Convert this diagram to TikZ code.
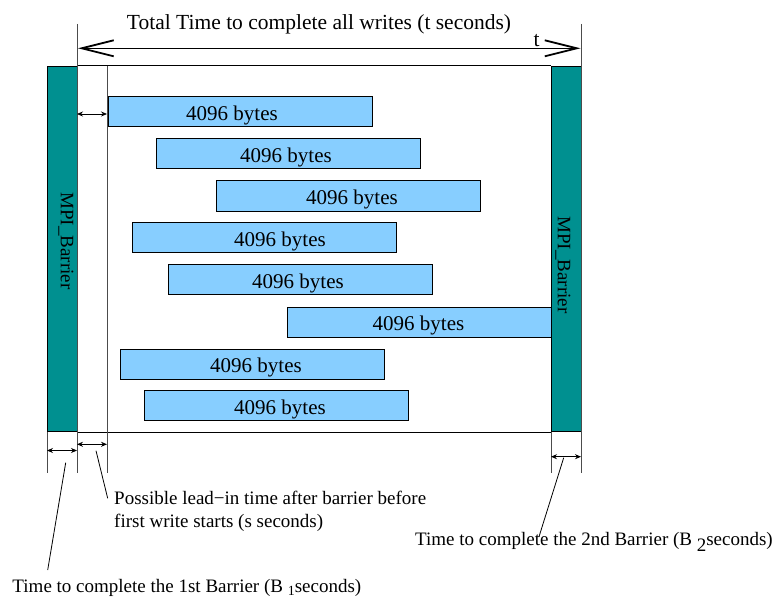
\documentclass[tikz,border=0pt]{standalone}
\usepackage{fontspec}
\setmainfont{Liberation Serif}
\usetikzlibrary{arrows.meta}
\definecolor{barteal}{HTML}{009090}
\definecolor{barblue}{HTML}{87CEFF}
\tikzset{
  wbar/.style={draw=black, line width=1bp, fill=barblue, minimum width=264bp, minimum height=30bp, inner sep=0pt, anchor=north west},
  barrier/.style={draw=black, line width=1bp, fill=barteal, minimum width=30bp, minimum height=365bp, inner sep=0pt, anchor=north west},
  bytes/.style={font=\fontsize{21bp}{24bp}\selectfont, anchor=base, inner sep=0pt},
  lbl/.style={font=\fontsize{19bp}{22bp}\selectfont, anchor=base west, inner sep=0pt},
  rot/.style={font=\fontsize{19bp}{22bp}\selectfont, rotate=-90, inner sep=0pt},
  ext/.style={draw=black!70, line width=1bp},
  frame/.style={draw=black, line width=1bp},
  dimarrow/.style={line width=0.8bp, {Stealth[length=6bp,width=5bp]}-{Stealth[length=6bp,width=5bp]}},
  bigarrow/.style={line width=1bp, {Straight Barb[length=32bp,width=16bp,line width=1.8bp]}-{Straight Barb[length=32bp,width=16bp,line width=1.8bp]}},
  leader/.style={draw=black, line width=0.8bp}
}
\begin{document}
\begin{tikzpicture}[x=1bp,y=-1bp]
\useasboundingbox[fill=white] (0,0) rectangle (772,601);

% barriers
\node[barrier] (bar1) at (47,66) {};
\node[barrier] (bar2) at (551,66) {};
\node[rot] (mpi1) at (66,241) {MPI\_Barrier};
\node[rot] (mpi2) at (563,265) {MPI\_Barrier};

% frame
\draw[frame] (bar1.north east) -- (bar2.north west);
\draw[frame] (bar1.south east) -- (bar2.south west);

% extension lines
\coordinate (e77t) at (77,24);
\coordinate (e77b) at (77,473);
\coordinate (e107t) at (107,66);
\coordinate (e107b) at (107,473);
\coordinate (e47b) at (47,473);
\coordinate (e551b) at (551,473);
\coordinate (e581t) at (581,24);
\coordinate (e581b) at (581,473);
\draw[ext] (e77t) -- (e77b);
\draw[ext] (e107t) -- (e107b);
\draw[ext] (bar1.south west) -- (e47b);
\draw[ext] (bar2.south west) -- (e551b);
\draw[ext] (e581t) -- (e581b);

% write bars
\node[wbar] (b1) at (107.5,96.3) {};
\node[wbar] (b2) at (155.5,138.3) {};
\node[wbar] (b3) at (215.5,180.5) {};
\node[wbar] (b4) at (131.5,222.3) {};
\node[wbar] (b5) at (167.5,264.3) {};
\node[wbar] (b6) at (287.3,306.5) {};
\node[wbar] (b7) at (119.5,348.5) {};
\node[wbar] (b8) at (143.5,390.3) {};
\node[bytes] (l1) at (232,120.3) {4096 bytes};
\node[bytes] (l2) at (286,162.3) {4096 bytes};
\node[bytes] (l3) at (352,204.5) {4096 bytes};
\node[bytes] (l4) at (280,246.3) {4096 bytes};
\node[bytes] (l5) at (298,288.3) {4096 bytes};
\node[bytes] (l6) at (418.5,330.5) {4096 bytes};
\node[bytes] (l7) at (256,372.5) {4096 bytes};
\node[bytes] (l8) at (280,414.3) {4096 bytes};

% top total-time arrow
\coordinate (ta) at (78,48.3);
\coordinate (tb) at (580.5,48.3);
\draw[bigarrow] (ta) -- (tb);
\node[font=\fontsize{21.5bp}{24bp}\selectfont, anchor=base, inner sep=0pt] (title) at (319,29.5) {Total Time to complete all writes (t seconds)};
\node[font=\fontsize{21.5bp}{24bp}\selectfont, anchor=base, inner sep=0pt] (tlab) at (536.5,46.5) {t};

% small dimension arrows
\coordinate (d0a) at (77,114);
\coordinate (d0b) at (107,114);
\coordinate (d1a) at (47,450.5);
\coordinate (d1b) at (77,450.5);
\coordinate (d2a) at (77,444.3);
\coordinate (d2b) at (107,444.3);
\coordinate (d3a) at (551,456.7);
\coordinate (d3b) at (581,456.7);
\draw[dimarrow] (d0a) -- (d0b);
\draw[dimarrow] (d1a) -- (d1b);
\draw[dimarrow] (d2a) -- (d2b);
\draw[dimarrow] (d3a) -- (d3b);

% labels
\node[lbl] (lead1) at (114,504.3) {Possible lead\textminus in time after barrier before};
\node[lbl] (lead2) at (114,527.7) {first write starts (s seconds)};
\node[lbl] (b2lab) at (415,545.7) {Time to complete the 2nd Barrier (B \raisebox{-0.3em}{\fontsize{19bp}{22bp}\selectfont 2}seconds)};
\node[lbl] (b1lab) at (12.3,592) {Time to complete the 1st Barrier (B \raisebox{-0.2em}{\fontsize{14bp}{16bp}\selectfont 1}seconds)};

% leader lines
\coordinate (p1a) at (65.7,462.7);
\coordinate (p1b) at (47.7,570);
\coordinate (p2a) at (96,450.7);
\coordinate (p2b) at (107.7,498.3);
\coordinate (p3a) at (563.7,457.7);
\coordinate (p3b) at (539,536.7);
\draw[leader] (p1a) -- (p1b);
\draw[leader] (p2a) -- (p2b);
\draw[leader] (p3a) -- (p3b);
\end{tikzpicture}
\end{document}
